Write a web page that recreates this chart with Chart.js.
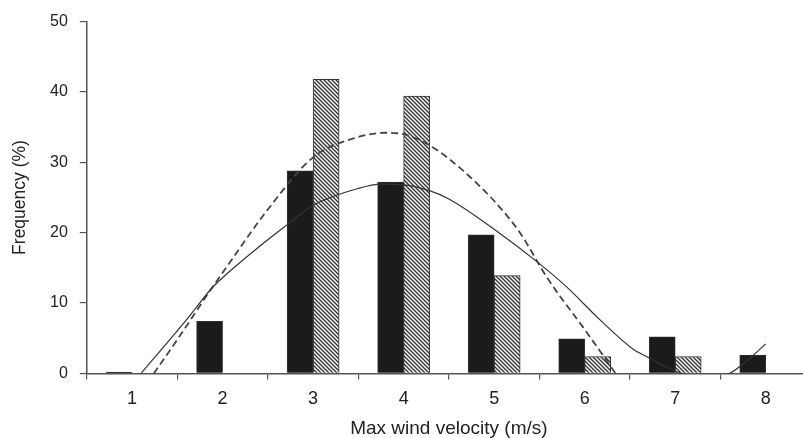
<!DOCTYPE html>
<html>
<head>
<meta charset="utf-8">
<script src="https://cdn.jsdelivr.net/npm/chart.js@4/dist/chart.umd.min.js"></script>
<style>
  html, body { margin: 0; padding: 0; background: #fff; overflow: hidden; }
  #wrap { width: 811px; height: 438px; }
</style>
</head>
<body>
<div id="wrap"><canvas id="windChart" width="811" height="438"></canvas></div>
<script>
// Categories (max wind velocity, m/s)
const velocityLabels = ['1', '2', '3', '4', '5', '6', '7', '8'];

// Bar series (frequency, %)
const solidBars = [0.2, 7.4, 28.8, 27.2, 19.7, 4.9, 5.2, 2.6];
const hatchedBars = [null, null, 41.8, 39.4, 13.9, 2.4, 2.4, null];

// Fitted curves
const solidFitX = [1.1, 1.6, 1.88, 2.0, 2.5, 2.7, 3.0, 3.5, 3.75, 4.0, 4.3, 4.5, 5.0, 5.5, 5.8, 6.17, 6.54, 6.7, 6.9, 7.1, 7.3, 7.5, 7.6, 7.8, 8.0];
const solidFitY = [0, 7.6, 12.1, 13.6, 19.0, 21.0, 23.9, 26.3, 26.9, 26.8, 25.9, 24.8, 20.5, 15.6, 12.3, 7.6, 3.4, 2.3, 0.9, -0.1, -0.4, -0.2, 0, 1.9, 4.2];

const dashedFitX = [1.24, 1.5, 1.88, 2.0, 2.5, 3.0, 3.5, 3.8, 4.0, 4.26, 4.5, 4.85, 5.07, 5.29, 5.58, 6.03, 6.34, 6.5];
const dashedFitY = [0, 4.8, 12.1, 14.3, 23.3, 30.7, 33.6, 34.2, 34.0, 32.6, 30.5, 26.5, 23.5, 19.9, 13.7, 5.7, 0, -3];

// Y axis ticks
const yMin = 0, yMax = 50, yStep = 10;

function hatchPattern() {
  const c = document.createElement('canvas');
  c.width = 4; c.height = 4;
  const g = c.getContext('2d');
  g.fillStyle = '#f4f4f4';
  g.fillRect(0, 0, 4, 4);
  g.strokeStyle = '#333';
  g.lineWidth = 1.3;
  g.beginPath();
  g.moveTo(0, 0); g.lineTo(4, 4);
  g.moveTo(-1, 3); g.lineTo(1, 5);
  g.moveTo(3, -1); g.lineTo(5, 1);
  g.stroke();
  return g.createPattern(c, 'repeat');
}

function toPoints(xs, ys) {
  return xs.map((x, i) => ({ x: x, y: ys[i] }));
}

const ctx = document.getElementById('windChart').getContext('2d');
const family = 'Liberation Sans, Arial, sans-serif';

new Chart(ctx, {
  type: 'bar',
  data: {
    labels: velocityLabels,
    datasets: [
      {
        label: 'Solid fit',
        type: 'line',
        xAxisID: 'xl',
        data: toPoints(solidFitX, solidFitY),
        borderColor: '#333',
        borderWidth: 1.2,
        pointRadius: 0,
        cubicInterpolationMode: 'monotone',
        order: 0
      },
      {
        label: 'Dashed fit',
        type: 'line',
        xAxisID: 'xl',
        data: toPoints(dashedFitX, dashedFitY),
        borderColor: '#444',
        borderWidth: 1.8,
        borderDash: [7, 4],
        pointRadius: 0,
        cubicInterpolationMode: 'monotone',
        order: 0
      },
      {
        label: 'Black',
        data: solidBars,
        xAxisID: 'x',
        backgroundColor: '#1b1b1b',
        borderColor: '#333',
        borderWidth: 1,
        barThickness: 26,
        order: 1
      },
      {
        label: 'Hatched',
        data: hatchedBars,
        xAxisID: 'x',
        backgroundColor: hatchPattern(),
        borderColor: '#333',
        borderWidth: 1,
        barThickness: 26,
        order: 1
      }
    ]
  },
  options: {
    responsive: false,
    animation: false,
    devicePixelRatio: 1,
    layout: { padding: { left: 10, top: 20, right: 0, bottom: 0 } },
    plugins: {
      legend: { display: false },
      tooltip: { enabled: false }
    },
    scales: {
      x: {
        type: 'category',
        offset: true,
        grid: { offset: true, drawOnChartArea: false, drawTicks: true, tickLength: 6, color: '#555', lineWidth: 1.2 },
        border: { display: true, color: '#555', width: 1.5 },
        ticks: { color: '#222', font: { family: family, size: 18 }, padding: 9 },
        title: { display: true, text: 'Max wind velocity (m/s)', color: '#222', font: { family: family, size: 19, lineHeight: 1 }, padding: { top: 0, bottom: 0 } }
      },
      xl: {
        type: 'linear',
        display: false,
        offset: false,
        min: 0.5,
        max: 8.5
      },
      y: {
        min: yMin,
        max: yMax,
        ticks: { stepSize: yStep, color: '#222', font: { family: family, size: 16 }, padding: 12 },
        grid: { drawOnChartArea: false, drawTicks: true, tickLength: 7, color: '#555', lineWidth: 1.2 },
        border: { display: true, color: '#555', width: 1.5 },
        title: { display: true, text: 'Frequency (%)', color: '#222', font: { family: family, size: 17.5 }, padding: { top: 0, bottom: 7 } }
      }
    }
  }
});
</script>
</body>
</html>
